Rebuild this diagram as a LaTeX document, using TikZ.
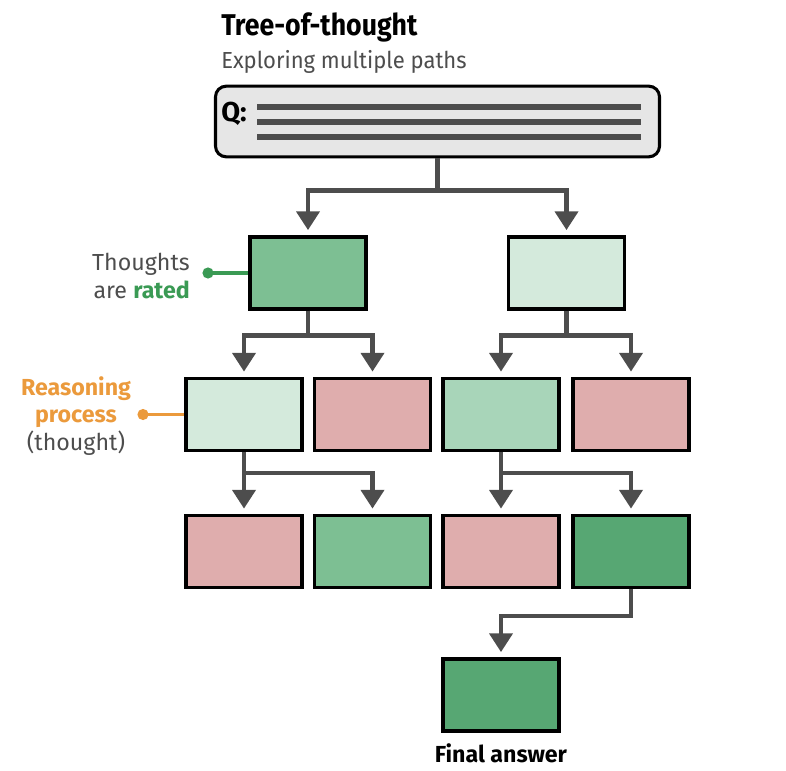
\documentclass[tikz,border=0pt]{standalone}
\usepackage{fontspec}
\setmainfont{Fira Sans}
\newfontfamily\titlefont{Fira Sans}[FakeStretch=0.89]
\newfontfamily\subtitlefont{Fira Sans}[FakeStretch=0.95]
\usetikzlibrary{arrows.meta}
\definecolor{inkgray}{HTML}{4D4D4D}
\definecolor{qgray}{HTML}{E6E6E6}
\definecolor{gdark}{HTML}{57A773}
\definecolor{gmid}{HTML}{7DBF93}
\definecolor{glight}{HTML}{A8D5B9}
\definecolor{gpale}{HTML}{D4EADC}
\definecolor{pinkbad}{HTML}{DFADAD}
\definecolor{ratedgreen}{HTML}{3A9A54}
\definecolor{reasonorange}{HTML}{EB9A3C}
\tikzset{
  thought/.style={draw=black,line width=2.3pt,minimum width=87pt,minimum height=54pt,inner sep=0pt},
  link/.style={draw=inkgray,line width=3.4pt,
    -{Triangle[width=17pt,length=14pt]},shorten >=4pt},
  labtext/.style={inner sep=0pt,text=inkgray,font=\fontsize{17.4}{20.5}\selectfont},
}
\begin{document}
\begin{tikzpicture}[x=0.75pt,y=-0.75pt]
   \useasboundingbox (0,0) rectangle (786,771);
   % title
   \node[anchor=base west,inner sep=0pt,font=\titlefont\bfseries\fontsize{22.5}{26}\selectfont] (title) at (221,36) {Tree-of-thought};
   \node[anchor=base west,inner sep=0pt,text=inkgray,font=\subtitlefont\fontsize{17.4}{20}\selectfont] (subtitle) at (221,68) {Exploring multiple paths};
   % question
   \node[draw=black,fill=qgray,line width=2.3pt,rounded corners=8pt,minimum width=333pt,minimum height=53pt] (q) at (437.5,121.5) {};
   \node[anchor=west,inner sep=0pt,font=\bfseries\fontsize{20.5}{22}\selectfont] (qlabel) at (221,114) {Q:};
   \foreach \y in {107,122,137}
     \draw[inkgray,line width=5.2pt] (257,\y) -- (641,\y);
   % thoughts
   \node[thought,fill=gmid]    (t1a) at (308,273) {};
   \node[thought,fill=gpale]   (t1b) at (566.5,273) {};
   \node[thought,fill=gpale]   (t2a) at (244,414.5) {};
   \node[thought,fill=pinkbad] (t2b) at (372.5,414.5) {};
   \node[thought,fill=glight]  (t2c) at (501,414.5) {};
   \node[thought,fill=pinkbad] (t2d) at (631,414.5) {};
   \node[thought,fill=pinkbad] (t3a) at (244,551.5) {};
   \node[thought,fill=gmid]    (t3b) at (372.5,551.5) {};
   \node[thought,fill=pinkbad] (t3c) at (501,551.5) {};
   \node[thought,fill=gdark]   (t3d) at (631,551.5) {};
   \node[thought,fill=gdark]   (final) at (501,695) {};
   \node[anchor=base,inner sep=0pt,font=\bfseries\fontsize{17.4}{20}\selectfont] (finallabel) at (501,762) {Final answer};
   % branches
   \draw[link] (q.south) -- ++(0,32) -| (t1a.north);
   \draw[link] (q.south) -- ++(0,32) -| (t1b.north);
   \draw[link] (t1a.south) -- ++(0,25) -| (t2a.north);
   \draw[link] (t1a.south) -- ++(0,25) -| (t2b.north);
   \draw[link] (t1b.south) -- ++(0,25) -| (t2c.north);
   \draw[link] (t1b.south) -- ++(0,25) -| (t2d.north);
   \draw[link] (t2a.south) -- (t3a.north);
   \draw[link] (t2a.south) -- ++(0,21) -| (t3b.north);
   \draw[link] (t2c.south) -- (t3c.north);
   \draw[link] (t2c.south) -- ++(0,21) -| (t3d.north);
   \draw[link] (t3d.south) -- ++(0,27) -| (final.north);
   % callouts
   \node[labtext,anchor=east,align=right] (rated) at (190,276) {Thoughts\\are \textcolor{ratedgreen}{\bfseries rated}};
   \coordinate (ratedpin) at (208,273);
   \fill[ratedgreen] (ratedpin) circle (4.2pt);
   \draw[ratedgreen,line width=2.6pt] (ratedpin) -- (t1a.west);
   \node[labtext,align=center] (reason) at (76,416) {\textcolor{reasonorange}{\bfseries Reasoning}\\\textcolor{reasonorange}{\bfseries process}\\(thought)};
   \coordinate (reasonpin) at (143,414.5);
   \fill[reasonorange] (reasonpin) circle (4.2pt);
   \draw[reasonorange,line width=2.6pt] (reasonpin) -- (t2a.west);
  \end{tikzpicture}
\end{document}
